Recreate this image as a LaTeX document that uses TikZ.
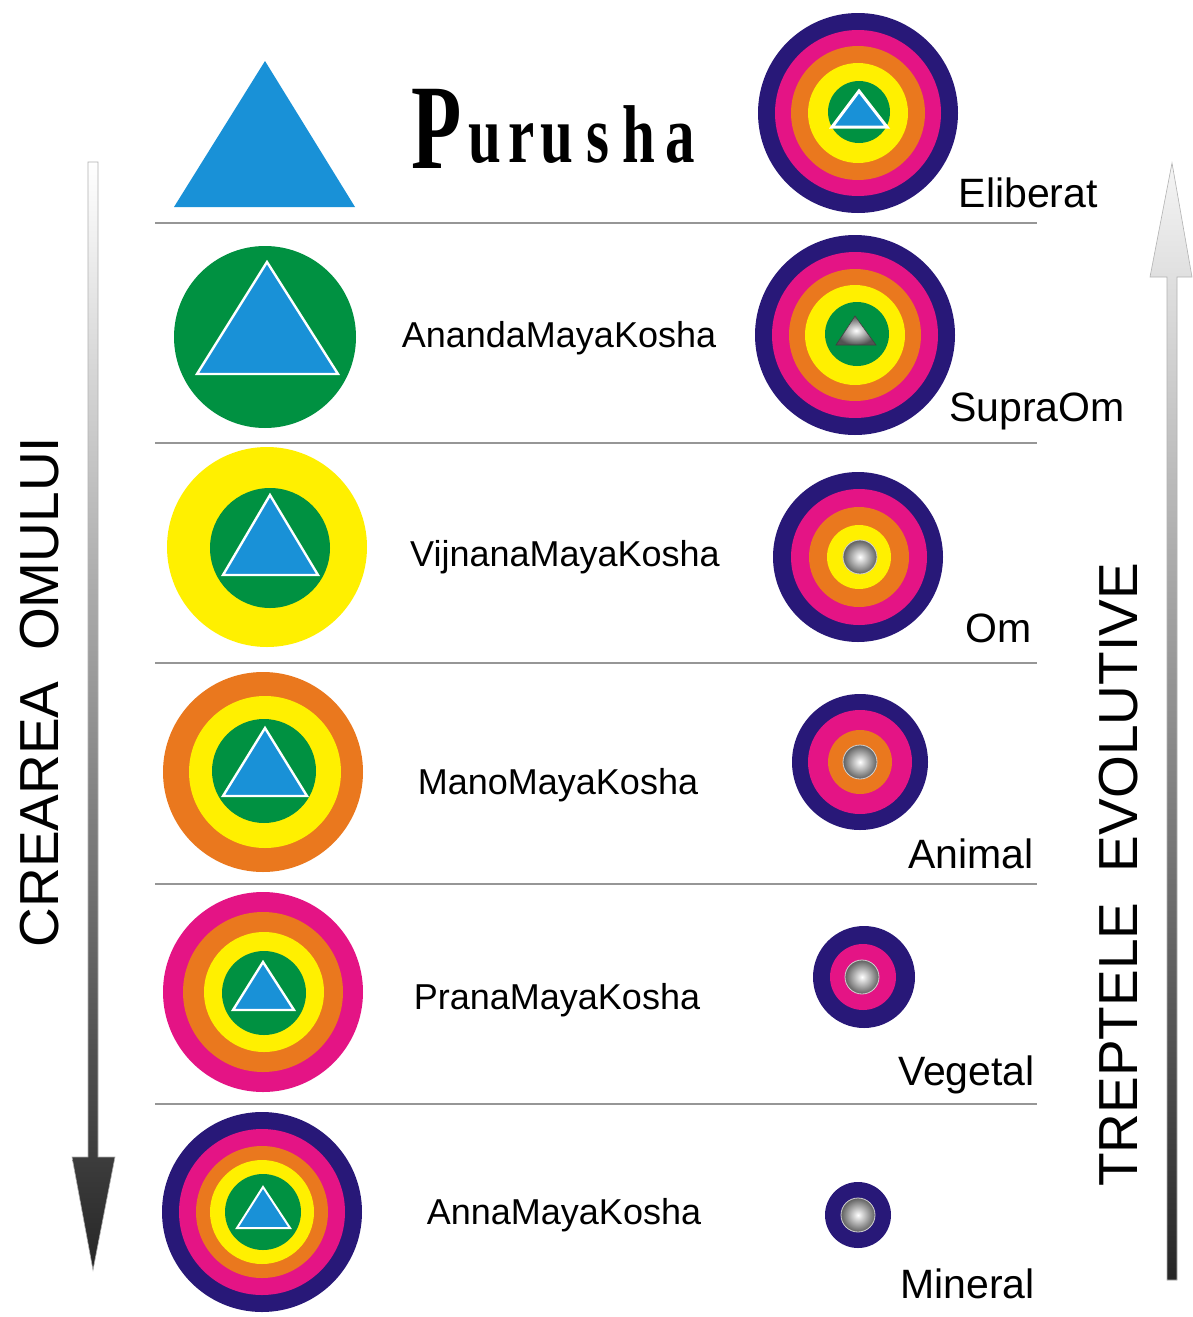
\documentclass[tikz,border=0pt]{standalone}
\usepackage{fontspec}
\setmainfont{Liberation Sans}
\newfontfamily\purfont{Liberation Serif}
\usetikzlibrary{calc}
\definecolor{knavy}{RGB}{40,24,120}
\definecolor{kpink}{RGB}{228,20,133}
\definecolor{korange}{RGB}{234,120,30}
\definecolor{kyellow}{RGB}{255,240,0}
\definecolor{kgreen}{RGB}{0,145,65}
\definecolor{kblue}{RGB}{25,145,215}
\definecolor{sepgray}{RGB}{150,150,150}
\begin{document}
\begin{tikzpicture}[x=1pt,y=-1pt,
  sepline/.style={draw=sepgray, line width=1.4pt},
  tri/.style={fill=kblue, draw=white, line width=2.4pt, line join=miter},
  sphere/.style={inner color=white, outer color=gray!75!black, draw=gray!35, line width=0.8pt},
  kosha/.style={font=\fontsize{36}{40}\selectfont, anchor=base, inner sep=0pt},
  stage/.style={font=\fontsize{41}{45}\selectfont, anchor=base east, inner sep=0pt},
  vlab/.style={font=\fontsize{55}{60}\selectfont, rotate=90, anchor=base, inner sep=0pt},
  plet/.style={font=\purfont\bfseries\fontsize{82}{85}\selectfont, anchor=base, inner sep=0pt, xscale=0.72}]
\useasboundingbox (0,0) rectangle (1192,1317);
\fill[white] (0,0) rectangle (1192,1317);

% separator lines
\foreach \yy in {223,443,663,884,1104}
  \draw[sepline] (155,\yy) -- (1037,\yy);

% ---------- left arrow (CREAREA OMULUI) ----------
\coordinate (LA1) at (93,162);
\coordinate (LA2) at (93,1270);
\shade[top color=white, middle color=gray!85, bottom color=black!85, draw=gray!60, line width=0.6pt]
  ($(LA1)+(-5,0)$) -- ($(LA1)+(5,0)$) -- ($(LA2)+(5,-113)$) -- ($(LA2)+(22,-113)$) -- (LA2)
  -- ($(LA2)+(-21,-113)$) -- ($(LA2)+(-5,-113)$) -- cycle;
\node[vlab] (crea) at (58,692) {CREAREA\ \ OMULUI};

% ---------- right arrow (TREPTELE EVOLUTIVE) ----------
\coordinate (RA1) at (1172,1280);
\coordinate (RA2) at (1172,163);
\shade[top color=white!92!gray, middle color=gray!75, bottom color=black!85, draw=gray!60, line width=0.6pt]
  ($(RA1)+(-5,0)$) -- ($(RA1)+(5,0)$) -- ($(RA2)+(5,114)$) -- ($(RA2)+(20,114)$) -- (RA2)
  -- ($(RA2)+(-22,114)$) -- ($(RA2)+(-5,114)$) -- cycle;
\node[vlab] (trep) at (1137,875) {TREPTELE\ \ EVOLUTIVE};

% ---------- row 1: Purusha ----------
\fill[kblue] (265,61) -- (355,207) -- (174,207) -- cycle;
\node[font=\purfont\bfseries\fontsize{121}{125}\selectfont, anchor=base, inner sep=0pt, xscale=0.68] (pP) at (437,168) {P};
\node[plet] (pu1) at (485,162) {u};
\node[plet] (pr)  at (522,162) {r};
\node[plet] (pu2) at (557,162) {u};
\node[plet] (ps)  at (598,162) {s};
\node[plet] (ph)  at (639,162) {h};
\node[plet] (pa)  at (680,162) {a};

\fill[knavy] (858,113) circle (100pt);
\fill[kpink] (858,113) circle (83pt);
\fill[korange] (858,113) circle (67pt);
\fill[kyellow] (858,113) circle (50pt);
\fill[kgreen] (859,112) circle (31pt);
\filldraw[tri, line width=3pt] (859,91) -- (887,127) -- (832,127) -- cycle;
\node[stage] (s1) at (1098,207) {Eliberat};

% ---------- row 2: AnandaMayaKosha ----------
\fill[kgreen] (265,337) circle (91pt);
\filldraw[tri] (267,262) -- (338,374) -- (197,374) -- cycle;
\node[kosha] (k2) at (559,347) {AnandaMayaKosha};

\fill[knavy] (855,335) circle (100pt);
\fill[kpink] (855,335) circle (83pt);
\fill[korange] (855,335) circle (66pt);
\fill[kyellow] (855,335) circle (50pt);
\fill[kgreen] (857,334) circle (32pt);
\shade[inner color=white, outer color=gray!65!black, draw=gray!50!black, line width=0.6pt]
  (855,316) -- (876,345) -- (836,345) -- cycle;
\node[stage] (s2) at (1125,421) {SupraOm};

% ---------- row 3: VijnanaMayaKosha ----------
\fill[kyellow] (267,547) circle (100pt);
\fill[kgreen] (270,548) circle (60pt);
\filldraw[tri] (270,495) -- (318,575) -- (223,575) -- cycle;
\node[kosha] (k3) at (565,566) {VijnanaMayaKosha};

\fill[knavy] (858,557) circle (85pt);
\fill[kpink] (859,557) circle (68pt);
\fill[korange] (859,557) circle (50pt);
\fill[kyellow] (859,557) circle (32pt);
\shade[sphere] (860,557) circle (17pt);
\node[stage] (s3) at (1032,642) {Om};

% ---------- row 4: ManoMayaKosha ----------
\fill[korange] (263,772) circle (100pt);
\fill[kyellow] (265,772) circle (76pt);
\fill[kgreen] (264,771) circle (52pt);
\filldraw[tri] (265,728) -- (307,796) -- (223,796) -- cycle;
\node[kosha] (k4) at (558,794) {ManoMayaKosha};

\fill[knavy] (860,762) circle (68pt);
\fill[kpink] (860,762) circle (52pt);
\fill[korange] (860,762) circle (32pt);
\shade[sphere] (860,762) circle (17pt);
\node[stage] (s4) at (1034,868) {Animal};

% ---------- row 5: PranaMayaKosha ----------
\fill[kpink] (263,992) circle (100pt);
\fill[korange] (263,992) circle (80pt);
\fill[kyellow] (264,992) circle (60pt);
\fill[kgreen] (264,993) circle (42pt);
\filldraw[tri] (263,962) -- (294,1010) -- (233,1010) -- cycle;
\node[kosha] (k5) at (557,1009) {PranaMayaKosha};

\fill[knavy] (864,977) circle (51pt);
\fill[kpink] (863,977) circle (33pt);
\shade[sphere] (862,977) circle (17pt);
\node[stage] (s5) at (1035,1085) {Vegetal};

% ---------- row 6: AnnaMayaKosha ----------
\fill[knavy] (262,1212) circle (100pt);
\fill[kpink] (262,1212) circle (83pt);
\fill[korange] (262,1212) circle (66pt);
\fill[kyellow] (262,1212) circle (52pt);
\fill[kgreen] (263,1212) circle (38pt);
\filldraw[tri, line width=2pt] (263,1187) -- (290,1228) -- (237,1228) -- cycle;
\node[kosha] (k6) at (564,1224) {AnnaMayaKosha};

\fill[knavy] (858,1215) circle (33pt);
\shade[sphere] (858,1215) circle (17pt);
\node[stage] (s6) at (1035,1298) {Mineral};
\end{tikzpicture}
\end{document}
